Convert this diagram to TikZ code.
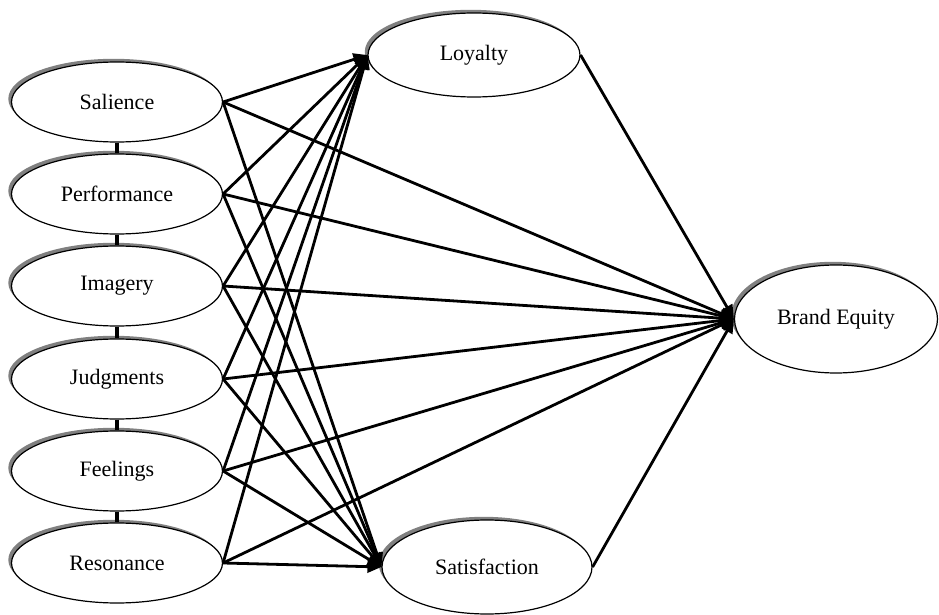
\documentclass[tikz,border=0pt]{standalone}
\usepackage{fontspec}
\setmainfont{Liberation Serif}
\usetikzlibrary{arrows.meta,shadows,shapes.geometric}
\begin{document}
\begin{tikzpicture}[x=0.5pt,y=-0.5pt,
		dim/.style={ellipse,draw,line width=0.6pt,fill=white,inner sep=0pt,minimum width=105.5pt,minimum height=40pt,
			font=\fontsize{11}{12}\selectfont,
			drop shadow={shadow xshift=-1.6pt,shadow yshift=1.6pt,fill=black!50,opacity=1}},
		fleche/.style={line width=1.4pt,-{Triangle[length=7pt,width=6pt]}},
		lien/.style={line width=1.8pt}]
		\useasboundingbox (0,0) rectangle (939,615);
		% Définition des noeuds
		\node[dim] (sal) at (117,102) {Salience};
		\node[dim] (perf) at (117,194) {Performance};
		\node[dim] (ima) at (117,286) {Imagery};
		\node[dim] (jug) at (117,379) {Judgments};
		\node[dim] (feel) at (117,471) {Feelings};
		\node[dim] (reso) at (117,563) {Resonance};
		\node[dim,minimum width=106pt,minimum height=42pt] (loy) at (474,55) {Loyalty};
		\node[dim,minimum width=105pt,minimum height=47pt] (sat) at (487,567) {Satisfaction};
		\node[dim,minimum width=101.5pt,minimum height=54pt] (be) at (836,319) {Brand Equity};
		
		% Liens verticaux
		\draw[lien] (sal) -- (perf);
		\draw[lien] (perf) -- (ima);
		\draw[lien] (ima) -- (jug);
		\draw[lien] (jug) -- (feel);
		\draw[lien] (feel) -- (reso);
		
		% Définition des arcs
		\foreach \n in {sal,perf,ima,jug,feel,reso}{
			\draw[fleche] (\n.east) -- (loy.west);
			\draw[fleche] (\n.east) -- (sat.west);
			\draw[fleche] (\n.east) -- (be.west);
		}
		\draw[fleche] (loy.east) -- (be.west);
		\draw[fleche] (sat.east) -- (be.west);
	\end{tikzpicture}
\end{document}
